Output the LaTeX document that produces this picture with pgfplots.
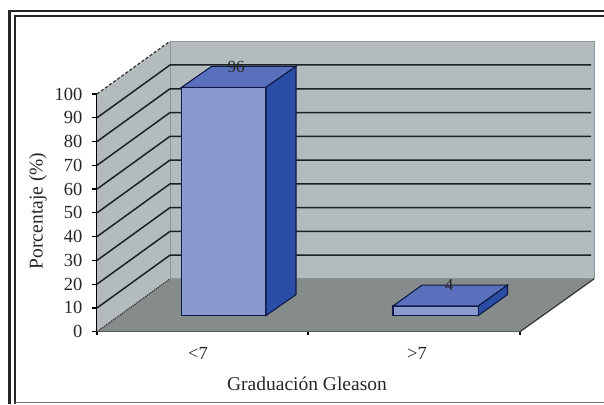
\documentclass[border=0pt]{standalone}
\usepackage{pgfplots}
\usepackage{fontspec}
\setmainfont{Liberation Serif}
\pgfplotsset{compat=1.18}
\definecolor{wall}{HTML}{B4BBBE}
\definecolor{wallb}{HTML}{8F9699}
\definecolor{floorc}{HTML}{868B8B}
\definecolor{front}{HTML}{8A9ACF}
\definecolor{topc}{HTML}{5B70BC}
\definecolor{sidec}{HTML}{2B4DA6}
\definecolor{edge}{HTML}{0E1B45}
\definecolor{gridc}{HTML}{1A2222}
\begin{document}
\begin{tikzpicture}[x=1pt,y=1pt]
\path[use as bounding box] (0,0) rectangle (604,404);
% frame
\draw[line width=2.8pt,color=black!85] (9.5,0) -- (9.5,393) -- (604,393);
\draw[line width=2pt,color=black!85] (14.5,0) -- (14.5,388) -- (604,388);
\draw[line width=1pt,color=black!55] (14.5,2) -- (604,2);
\begin{axis}[
  at={(97pt,72.3pt)},anchor=south west,
  scale only axis,width=423pt,height=237.7pt,
  xmin=97,xmax=520,ymin=0,ymax=100,
  clip=false,
  axis x line*=bottom,axis y line*=left,
  axis line style={-,line width=1.4pt,color=black},
  ytick={0,10,...,100},
  xtick={198,417},xticklabels={<7,>7},
  major x tick style={draw=none},
  minor xtick={97,308,520},
  minor tick length=3.5pt,
  minor x tick style={line width=1.1pt,color=black},
  major tick length=5pt,
  y tick style={line width=1.2pt,color=black},
  tick align=outside,
  ticklabel style={font=\fontsize{18.5}{20}\selectfont,color=black!85},
  /pgf/number format/assume math mode=true,
  xticklabel style={yshift=-7pt},
  yticklabel style={xshift=-6pt},
  xlabel={Graduación Gleason},
  ylabel={Porcentaje (\%)},
  label style={font=\fontsize{19.5}{22}\selectfont,color=black!85},
  x label style={at={(axis cs:307,-22)},anchor=center},
  y label style={at={(axis cs:38,50.8)},anchor=center},
]
% walls and floor
\addplot[fill=wall,draw=none] coordinates {(97,0)(170,22.2)(170,122.2)(97,100)} --cycle;
\addplot[fill=wall,draw=wallb,line width=1pt] coordinates {(170,22.2)(170,122.2)(594,122.2)(594,22.2)} --cycle;
\addplot[fill=floorc,draw=none] coordinates {(97,0)(520,0)(594,22.2)(170,22.2)} --cycle;
% edges of the walls
\addplot[draw=black!80,line width=1.2pt,densely dashed] coordinates {(97,100)(170,122.2)};
\addplot[draw=black!80,line width=1.2pt,densely dotted] coordinates {(97,0)(170,22.2)};
\addplot[draw=black!80,line width=1.2pt] coordinates {(520,0)(594,22.2)};
% gridlines
\foreach \v/\b in {10/32.2,20/42.2,30/52.2,40/62.2,50/72.2,60/82.2,70/92.2,80/102.2,90/112.2}{
  \edef\tmp{\noexpand\addplot[draw=gridc,line width=1.5pt] coordinates {(97,\v)(170,\b)(591,\b)};}
  \tmp
}
% bar <7 : 96
\addplot[fill=front,draw=edge,line width=1.1pt] coordinates {(181.5,6.8)(266,6.8)(266,102.8)(181.5,102.8)} --cycle;
\addplot[fill=topc,draw=edge,line width=1.1pt] coordinates {(181.5,102.8)(266,102.8)(296,111.6)(211.5,111.6)} --cycle;
\addplot[fill=sidec,draw=edge,line width=1.1pt] coordinates {(266,6.8)(296,15.6)(296,111.6)(266,102.8)} --cycle;
% bar >7 : 4
\addplot[fill=front,draw=edge,line width=1.1pt] coordinates {(393,6.8)(478.3,6.8)(478.3,10.8)(393,10.8)} --cycle;
\addplot[fill=topc,draw=edge,line width=1.1pt] coordinates {(393,10.8)(478.3,10.8)(507.5,19.6)(422,19.6)} --cycle;
\addplot[fill=sidec,draw=edge,line width=1.1pt] coordinates {(478.3,6.8)(507.5,15.6)(507.5,19.6)(478.3,10.8)} --cycle;
\node[font=\fontsize{17}{18}\selectfont,color=black!85] at (axis cs:236,111.4) {96};
\node[font=\fontsize{17}{18}\selectfont,color=black!85] at (axis cs:449,19.6) {4};
\end{axis}
\end{tikzpicture}
\end{document}
